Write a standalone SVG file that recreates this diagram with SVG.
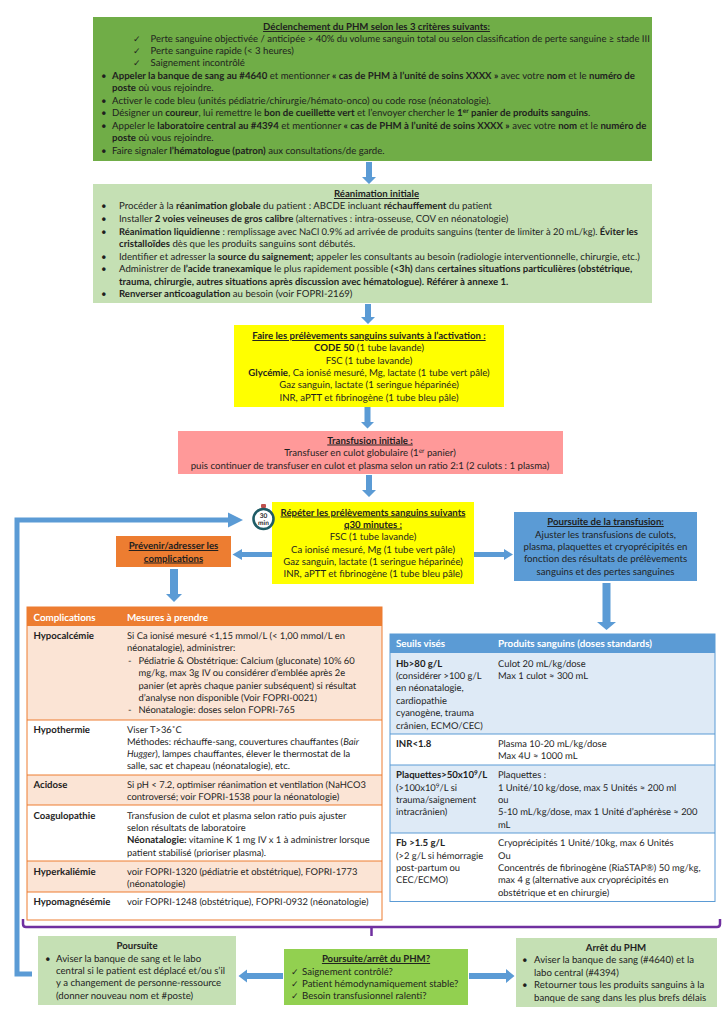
<svg xmlns="http://www.w3.org/2000/svg" width="724" height="1024" viewBox="0 0 724 1024">
<style>
text{font-family:Lato,"Liberation Sans",sans-serif;font-size:9.65px;fill:#1f1f1f;text-rendering:geometricPrecision}
#table-complications text,#table-seuils text{font-size:9.4px}
#table-complications .b,#table-seuils .b{font-size:9.6px}
#table-complications .h,#table-seuils .h{font-size:9.8px}
.c{text-anchor:middle}
.b{font-weight:700}
.u{font-weight:700;text-decoration:underline}
.i{font-style:italic}
text.k{font-family:"DejaVu Sans",sans-serif;font-size:9px}
.h{font-weight:700;fill:#fff}
.a{fill:#5B9BD5}
.s{font-size:6.5px}
.o{fill:#FBE4D5}
.l{fill:#DEEAF6}
.ro{stroke:#ED7D31;stroke-width:1;fill:none}
.rb{stroke:#5B9BD5;stroke-width:1;fill:none}
</style>
<rect width="724" height="1024" fill="#fff"/>
<g id="declenchement">
<rect x="93" y="17" width="559" height="144" fill="#70AD47"/>
<text x="376.5" y="30" class="c u">Déclenchement du PHM selon les 3 critères suivants:</text>
<text x="133" y="42" class="k">✓</text><text x="150.5" y="42" style="font-size:9.53px">Perte sanguine objectivée / anticipée &gt; 40% du volume sanguin total ou selon classification de perte sanguine ≥ stade III</text>
<text x="133" y="54" class="k">✓</text><text x="150.5" y="54">Perte sanguine rapide (&lt; 3 heures)</text>
<text x="133" y="66" class="k">✓</text><text x="150.5" y="66">Saignement incontrôlé</text>
<text x="101" y="79">•</text><text x="112" y="79"><tspan class="b">Appeler la banque de sang au #4640</tspan> et mentionner <tspan class="b">« cas de PHM à l’unité de soins XXXX »</tspan> avec votre <tspan class="b">nom</tspan> et le <tspan class="b">numéro de</tspan></text>
<text x="112" y="91"><tspan class="b">poste</tspan> où vous rejoindre.</text>
<text x="101" y="104">•</text><text x="112" y="104">Activer le code bleu (unités pédiatrie/chirurgie/hémato-onco) ou code rose (néonatologie).</text>
<text x="101" y="116">•</text><text x="112" y="116">Désigner un <tspan class="b">coureur</tspan>, lui remettre le <tspan class="b">bon de cueillette vert</tspan> et l’envoyer chercher le <tspan class="b">1<tspan class="s" dy="-3">er</tspan><tspan dy="3"> panier de produits sanguins</tspan></tspan>.</text>
<text x="101" y="129">•</text><text x="112" y="129">Appeler le <tspan class="b">laboratoire central au #4394</tspan> et mentionner <tspan class="b">« cas de PHM à l’unité de soins XXXX »</tspan> avec votre <tspan class="b">nom</tspan> et le <tspan class="b">numéro de</tspan></text>
<text x="112" y="141"><tspan class="b">poste</tspan> où vous rejoindre.</text>
<text x="101" y="154">•</text><text x="112" y="154">Faire signaler <tspan class="b">l’hématologue (patron)</tspan> aux consultations/de garde.</text>
</g>
<g id="reanimation">
<rect x="93" y="184" width="559" height="119" fill="#C5E0B4"/>
<text x="376.5" y="197" class="c u">Réanimation initiale</text>
<text x="101" y="209">•</text><text x="119" y="209">Procéder à la <tspan class="b">réanimation globale</tspan> du patient : ABCDE incluant <tspan class="b">réchauffement</tspan> du patient</text>
<text x="101" y="222">•</text><text x="119" y="222">Installer <tspan class="b">2 voies veineuses de gros calibre</tspan> (alternatives : intra-osseuse, COV en néonatologie)</text>
<text x="101" y="234.5">•</text><text x="119" y="234.5" style="font-size:9.42px"><tspan class="b">Réanimation liquidienne</tspan> : remplissage avec NaCl 0.9% ad arrivée de produits sanguins (tenter de limiter à 20 mL/kg). <tspan class="b">Éviter les</tspan></text>
<text x="119" y="247"><tspan class="b">cristalloïdes</tspan> dès que les produits sanguins sont débutés.</text>
<text x="101" y="259.5">•</text><text x="119" y="259.5">Identifier et adresser la <tspan class="b">source du saignement;</tspan> appeler les consultants au besoin (radiologie interventionnelle, chirurgie, etc.)</text>
<text x="101" y="272">•</text><text x="119" y="272">Administrer de <tspan class="b">l’acide tranexamique</tspan> le plus rapidement possible <tspan class="b">(&lt;3h)</tspan> dans <tspan class="b">certaines situations particulières (obstétrique,</tspan></text>
<text x="119" y="284.5" class="b">trauma, chirurgie, autres situations après discussion avec hématologue). Référer à annexe 1.</text>
<text x="101" y="297">•</text><text x="119" y="297"><tspan class="b">Renverser anticoagulation</tspan> au besoin (voir FOPRI-2169)</text>
</g>
<g id="prelevements">
<rect x="234" y="325" width="270" height="82" fill="#FFFF00"/>
<text x="369" y="339" class="c u">Faire les prélèvements sanguins suivants à l’activation :</text>
<text x="369" y="351" class="c"><tspan class="b">CODE 50</tspan> (1 tube lavande)</text>
<text x="369" y="363.5" class="c">FSC (1 tube lavande)</text>
<text x="369" y="376" class="c"><tspan class="b">Glycémie</tspan>, Ca ionisé mesuré, Mg, lactate (1 tube vert pâle)</text>
<text x="369" y="388" class="c">Gaz sanguin, lactate (1 seringue héparinée)</text>
<text x="369" y="400.5" class="c">INR, aPTT et fibrinogène (1 tube bleu pâle)</text>
</g>
<g id="transfusion-initiale">
<rect x="178" y="431" width="385" height="43" fill="#FF9999"/>
<text x="370" y="443.5" class="c u">Transfusion initiale :</text>
<text x="370" y="456" class="c">Transfuser en culot globulaire (1<tspan class="s" dy="-3">er</tspan><tspan dy="3"> panier)</tspan></text>
<text x="370" y="468.5" class="c">puis continuer de transfuser en culot et plasma selon un ratio 2:1 (2 culots : 1 plasma)</text>
</g>
<g id="repeter">
<rect x="272" y="502" width="202" height="82" fill="#FFFF00"/>
<text x="373" y="515.5" class="c u">Répéter les prélèvements sanguins suivants</text>
<text x="373" y="527.5" class="c u">q30 minutes :</text>
<text x="373" y="540" class="c">FSC (1 tube lavande)</text>
<text x="373" y="552.5" class="c">Ca ionisé mesuré, Mg (1 tube vert pâle)</text>
<text x="373" y="565" class="c">Gaz sanguin, lactate (1 seringue héparinée)</text>
<text x="373" y="577" class="c">INR, aPTT et fibrinogène (1 tube bleu pâle)</text>
</g>
<g id="minuteur">
<rect x="261" y="504" width="5" height="4" rx="1" fill="#C0504D"/>
<circle cx="263.5" cy="519" r="10" fill="#fff" stroke="#1F5C66" stroke-width="2.6"/>
<text x="263.5" y="518" class="c b" style="font-size:6.5px">30</text>
<text x="263.5" y="524.5" class="c b" style="font-size:6.5px">min</text>
</g>
<g id="poursuite-transfusion">
<rect x="514" y="512" width="183" height="69" fill="#5B9BD5"/>
<text x="605.5" y="525" class="c u">Poursuite de la transfusion:</text>
<text x="605.5" y="537.5" class="c">Ajuster les transfusions de culots,</text>
<text x="605.5" y="550" class="c">plasma, plaquettes et cryoprécipités en</text>
<text x="605.5" y="562" class="c">fonction des résultats de prélèvements</text>
<text x="605.5" y="574.5" class="c">sanguins et des pertes sanguines</text>
</g>
<g id="complications-titre">
<rect x="116" y="536" width="115" height="31" fill="#ED7D31"/>
<text x="173.5" y="549" class="c u">Prévenir/adresser les</text>
<text x="173.5" y="561.5" class="c u">complications</text>
</g>
<g id="table-complications">
<rect x="27" y="607" width="355" height="313" fill="#fff"/>
<rect x="27" y="626" width="355" height="94" class="o"/>
<rect x="27" y="775" width="355" height="30" class="o"/>
<rect x="27" y="861" width="355" height="31" class="o"/>
<rect x="27" y="607" width="355" height="19" fill="#ED7D31"/>
<path d="M27 720H382M27 775H382M27 805H382M27 861H382M27 892H382" class="ro"/>
<rect x="27" y="607" width="355" height="313" class="ro"/>
<text x="33.5" y="620.5" class="h">Complications</text><text x="127" y="620.5" class="h">Mesures à prendre</text>
<text x="33.5" y="639" class="b">Hypocalcémie</text>
<text x="127" y="639">Si Ca ionisé mesuré &lt;1,15 mmol/L (&lt; 1,00 mmol/L en</text>
<text x="127" y="651">néonatalogie), administrer:</text>
<text x="128" y="663.5">-</text><text x="138.5" y="663.5">Pédiatrie &amp; Obstétrique: Calcium (gluconate) 10% 60</text>
<text x="138.5" y="676">mg/kg, max 3g IV ou considérer d’emblée après 2e</text>
<text x="138.5" y="688.5">panier (et après chaque panier subséquent) si résultat</text>
<text x="138.5" y="700.5">d’analyse non disponible (Voir FOPRI-0021)</text>
<text x="128" y="713">-</text><text x="138.5" y="713">Néonatalogie: doses selon FOPRI-765</text>
<text x="33.5" y="733" class="b">Hypothermie</text>
<text x="127" y="733">Viser T&gt;36˚C</text>
<text x="127" y="744.5">Méthodes: réchauffe-sang, couvertures chauffantes (<tspan class="i">Bair</tspan></text>
<text x="127" y="757"><tspan class="i">Hugger</tspan>), lampes chauffantes, élever le thermostat de la</text>
<text x="127" y="769">salle, sac et chapeau (néonatalogie), etc.</text>
<text x="33.5" y="787.5" class="b">Acidose</text>
<text x="127" y="787.5">Si pH &lt; 7.2, optimiser réanimation et ventilation (NaHCO3</text>
<text x="127" y="800">controversé; voir FOPRI-1538 pour la néonatologie)</text>
<text x="33.5" y="819" class="b">Coagulopathie</text>
<text x="127" y="819">Transfusion de culot et plasma selon ratio puis ajuster</text>
<text x="127" y="830.5">selon résultats de laboratoire</text>
<text x="127" y="843"><tspan class="b">Néonatalogie:</tspan> vitamine K 1 mg IV x 1 à administrer lorsque</text>
<text x="127" y="855.5">patient stabilisé (prioriser plasma).</text>
<text x="33.5" y="874.5" class="b">Hyperkaliémie</text>
<text x="127" y="874.5">voir FOPRI-1320 (pédiatrie et obstétrique), FOPRI-1773</text>
<text x="127" y="887">(néonatologie)</text>
<text x="33.5" y="905" class="b">Hypomagnésémie</text>
<text x="127" y="905">voir FOPRI-1248 (obstétrique), FOPRI-0932 (néonatologie)</text>
</g>
<g id="table-seuils">
<rect x="390" y="634" width="325" height="267.5" fill="#fff"/>
<rect x="390" y="653" width="325" height="81" class="l"/>
<rect x="390" y="765" width="325" height="68" class="l"/>
<rect x="390" y="634" width="325" height="19" fill="#5B9BD5"/>
<path d="M390 734H715M390 765H715M390 833H715" class="rb"/>
<rect x="390" y="634" width="325" height="267.5" class="rb"/>
<text x="396" y="647" class="h">Seuils visés</text><text x="498" y="647" class="h">Produits sanguins (doses standards)</text>
<text x="396" y="666.5" class="b">Hb&gt;80 g/L</text>
<text x="396" y="679">(considérer &gt;100 g/L</text>
<text x="396" y="691">en néonatalogie,</text>
<text x="396" y="703.5">cardiopathie</text>
<text x="396" y="716">cyanogène, trauma</text>
<text x="396" y="728.5">crânien, ECMO/CEC)</text>
<text x="498" y="666.5">Culot 20 mL/kg/dose</text>
<text x="498" y="679">Max 1 culot ≈ 300 mL</text>
<text x="396" y="747" class="b">INR&lt;1.8</text>
<text x="498" y="747">Plasma 10-20 mL/kg/dose</text>
<text x="498" y="759">Max 4U ≈ 1000 mL</text>
<text x="396" y="778" class="b">Plaquettes&gt;50x10<tspan class="s" dy="-3" style="font-size:6.5px">9</tspan><tspan dy="3">/L</tspan></text>
<text x="396" y="790.5">(&gt;100x10<tspan class="s" dy="-3">9</tspan><tspan dy="3">/L si</tspan></text>
<text x="396" y="802.5">trauma/saignement</text>
<text x="396" y="815">intracrânien)</text>
<text x="498" y="778">Plaquettes :</text>
<text x="498" y="790.5">1 Unité/10 kg/dose, max 5 Unités ≈ 200 ml</text>
<text x="498" y="802.5">ou</text>
<text x="498" y="815">5-10 mL/kg/dose, max 1 Unité d’aphérèse ≈ 200</text>
<text x="498" y="827.5">mL</text>
<text x="396" y="846" class="b">Fb &gt;1.5 g/L</text>
<text x="396" y="858.5">(&gt;2 g/L si hémorragie</text>
<text x="396" y="871">post-partum ou</text>
<text x="396" y="883">CEC/ECMO)</text>
<text x="498" y="846">Cryoprécipités 1 Unité/10kg, max 6 Unités</text>
<text x="498" y="858.5">Ou</text>
<text x="498" y="871">Concentrés de fibrinogène (RiaSTAP®) 50 mg/kg,</text>
<text x="498" y="883">max 4 g (alternative aux cryoprécipités en</text>
<text x="498" y="895.5">obstétrique et en chirurgie)</text>
</g>
<g id="poursuite">
<rect x="38" y="936" width="198" height="69" fill="#C5E0B4"/>
<text x="137" y="949" class="c b">Poursuite</text>
<text x="45" y="961.5">•</text><text x="56" y="961.5">Aviser la banque de sang et le labo</text>
<text x="56" y="974">central si le patient est déplacé et/ou s’il</text>
<text x="56" y="986">y a changement de personne-ressource</text>
<text x="56" y="998.5">(donner nouveau nom et #poste)</text>
</g>
<g id="poursuite-arret">
<rect x="284" y="949" width="184" height="56" fill="#92D050"/>
<text x="376" y="962" class="c u">Poursuite/arrêt du PHM?</text>
<text x="291" y="974.5" class="k">✓</text><text x="302" y="974.5">Saignement contrôlé?</text>
<text x="291" y="987" class="k">✓</text><text x="302" y="987">Patient hémodynamiquement stable?</text>
<text x="291" y="999" class="k">✓</text><text x="302" y="999">Besoin transfusionnel ralenti?</text>
</g>
<g id="arret">
<rect x="516" y="938" width="201" height="69" fill="#C5E0B4"/>
<text x="616" y="951" class="c b">Arrêt du PHM</text>
<text x="522" y="963">•</text><text x="534" y="963">Aviser la banque de sang (#4640) et la</text>
<text x="534" y="975.5">labo central (#4394)</text>
<text x="522" y="988">•</text><text x="534" y="988">Retourner tous les produits sanguins à la</text>
<text x="534" y="1000.5">banque de sang dans les plus brefs délais</text>
</g>
<g id="connecteurs">
<path class="a" d="M366 162h6v15h4l-7 7-7-7h4z"/>
<path class="a" d="M365 304h6v13h4l-7 7-7-7h4z"/>
<path class="a" d="M364.5 407h6v15h3.5l-6.500 6.500-6.500-6.500h3.500z"/>
<path class="a" d="M366 475h6v15h4l-7 7-7-7h4z"/>
<path class="a" d="M272 552h-30v-3l-9.500 5.500 9.500 5.500v-3h30z"/>
<path class="a" d="M474 552h30v-3l9 5.500-9 5.500v-3h-30z"/>
<path class="a" d="M170 569h8v25h4l-8 8-8-8h4z"/>
<path class="a" d="M602.5 583h8v39h5.500l-9.500 8-9.500-8h5.500z"/>
<path class="a" d="M283 973h-36v-3.500l-8.500 6.500 8.500 6.500v-3.500h36z"/>
<path class="a" d="M469 973h37v-4l8.500 7-8.500 7v-4h-37z"/>
<path d="M32 974H17V520H228" fill="none" stroke="#5B9BD5" stroke-width="5"/>
<path class="a" d="M228 512.5l15 7.500-15 7.500z"/>
<path d="M23 919v5q0 3 3 3H717q3 0 3-3v-5M371.5 927v9" fill="none" stroke="#7030A0" stroke-width="2.5"/>
</g>
</svg>
